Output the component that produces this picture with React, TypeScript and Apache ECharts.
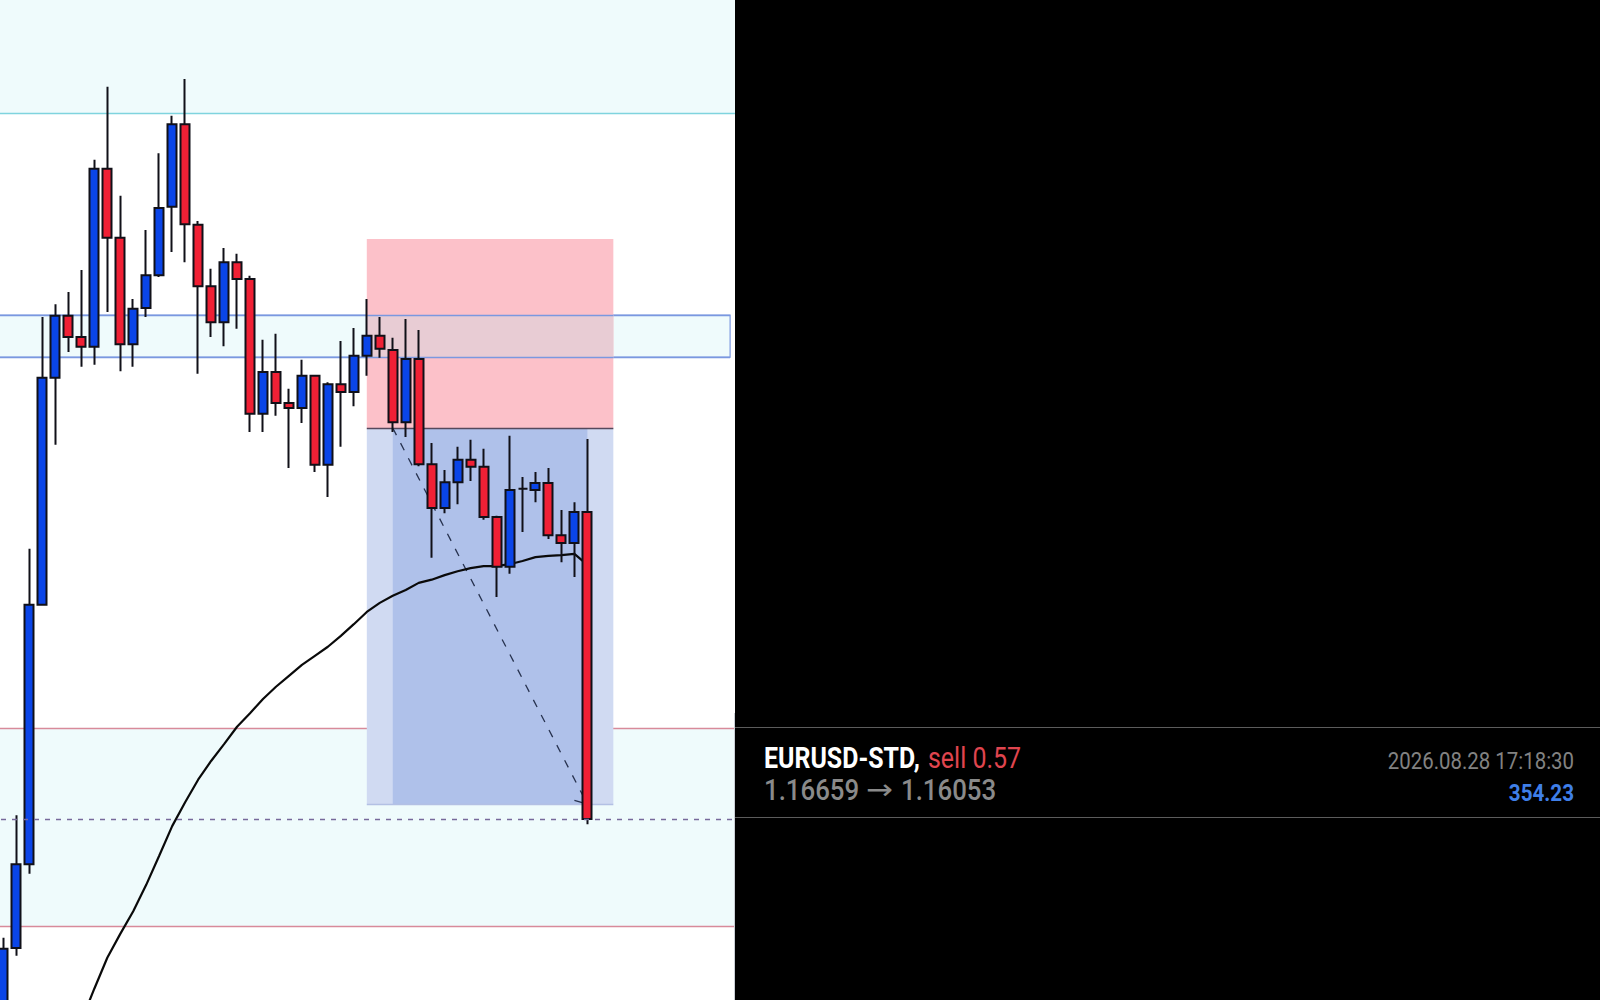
import * as echarts from "echarts";
import { useEffect, useRef } from "react";

// prices, oldest candle first
const opens = [
  1.15711, 1.15853, 1.15983, 1.16385, 1.16737, 1.16833, 1.168, 1.16785, 1.17061, 1.16954,
  1.16789, 1.16845, 1.16896, 1.17002, 1.1713, 1.16974, 1.16879, 1.16823, 1.16916, 1.1689,
  1.16681, 1.16746, 1.16698, 1.1669, 1.1674, 1.16602, 1.16727, 1.16715, 1.16771, 1.16802,
  1.1678, 1.16668, 1.16766, 1.16603, 1.16535, 1.16575, 1.1661, 1.16599, 1.16521, 1.16444,
  1.16565, 1.16563, 1.16574, 1.16493, 1.16481, 1.16529,
];
const closes = [
  1.15852, 1.15983, 1.16385, 1.16737, 1.16833, 1.168, 1.16785, 1.17061, 1.16954, 1.16789,
  1.16844, 1.16896, 1.17, 1.1713, 1.16975, 1.16879, 1.16823, 1.16916, 1.1689, 1.16681,
  1.16746, 1.16698, 1.1669, 1.1674, 1.16602, 1.16727, 1.16715, 1.16771, 1.16802, 1.16782,
  1.16668, 1.16766, 1.16603, 1.16535, 1.16575, 1.1661, 1.16599, 1.16521, 1.16444, 1.16563,
  1.16565, 1.16574, 1.16493, 1.16481, 1.16529, 1.16053,
];
const lows = [
  1.1568, 1.15841, 1.15968, 1.16385, 1.16633, 1.16777, 1.16754, 1.16757, 1.16839, 1.16747,
  1.16754, 1.16831, 1.16893, 1.16932, 1.16916, 1.16743, 1.168, 1.16786, 1.16813, 1.16653,
  1.16653, 1.16678, 1.16597, 1.16667, 1.16591, 1.16552, 1.1663, 1.16693, 1.1674, 1.16768,
  1.16653, 1.16645, 1.166, 1.16458, 1.16527, 1.16541, 1.16577, 1.16517, 1.16397, 1.16433,
  1.16498, 1.16544, 1.16487, 1.16451, 1.16428, 1.16045,
];
const highs = [
  1.15869, 1.16059, 1.16472, 1.16831, 1.16851, 1.1687, 1.16904, 1.17075, 1.17188, 1.17019,
  1.16859, 1.16966, 1.17085, 1.17143, 1.172, 1.1698, 1.16906, 1.16938, 1.16929, 1.16895,
  1.16796, 1.16805, 1.1672, 1.16765, 1.16741, 1.1673, 1.16794, 1.16814, 1.16859, 1.16831,
  1.16799, 1.16828, 1.16811, 1.16636, 1.16594, 1.1663, 1.16641, 1.16627, 1.16523, 1.16647,
  1.16583, 1.16591, 1.16597, 1.16532, 1.16544, 1.16642,
];
const maValues = [
  null, null, null, null, null, null, 1.1574, 1.1579, 1.15838, 1.15875,
  1.1591, 1.15951, 1.15996, 1.16042, 1.16079, 1.16114, 1.16143, 1.16169, 1.16196, 1.16217,
  1.16239, 1.16258, 1.16275, 1.16292, 1.16306, 1.1632, 1.16337, 1.16355, 1.16374, 1.16388,
  1.16399, 1.16408, 1.16419, 1.16424, 1.16431, 1.16437, 1.16442, 1.16445, 1.16445, 1.16448,
  1.16453, 1.16459, 1.16461, 1.16462, 1.16464, 1.16447,
];

// blank slots on the right keep the free space the platform leaves after the last candle
const slots = Array.from({ length: 57 }, (_, i) => String(i));

const upperZone = 1.17147;
const lowerZone = [1.16194, 1.15887];
const band = [1.16834, 1.16769];
const stopPrice = 1.16952;
const entryPrice = 1.16659;
const targetPrice = 1.16076;
const exitPrice = 1.16053;

const ZONE = "#effbfc";

const App = () => {
  const chartRef = useRef<HTMLDivElement>(null);

  useEffect(() => {
    const chart = echarts.init(chartRef.current as HTMLDivElement, null, {
      renderer: "svg",
    });

    const hLine = (y: number, color: string, from?: number, to?: number) => [
      { yAxis: y, ...(from === undefined ? { x: -10 } : { xAxis: from }), lineStyle: { color } },
      { yAxis: y, ...(to === undefined ? { x: 740 } : { xAxis: to }) },
    ];

    const option = {
      animation: false,
      backgroundColor: "#ffffff",
      grid: { left: -3, top: 0, width: 739.6, height: 1000, outerBoundsMode: "none" },
      xAxis: { type: "category", data: slots, show: false, boundaryGap: true },
      yAxis: { type: "value", min: 1.157725, max: 1.173225, show: false, splitLine: { show: false } },
      series: [
        {
          // zones behind everything
          type: "line",
          data: [],
          z: 1,
          markArea: {
            silent: true,
            z: 1,
            itemStyle: { color: ZONE },
            data: [
              [{ yAxis: 1.1733 }, { yAxis: upperZone }],
              [{ yAxis: lowerZone[0] }, { yAxis: lowerZone[1] }],
              [
                { yAxis: band[0], itemStyle: { color: ZONE, borderColor: "#7a98e0", borderWidth: 1.2 } },
                { yAxis: band[1], xAxis: 56 },
              ],
            ],
          },
          markLine: {
            silent: true,
            z: 2,
            symbol: "none",
            label: { show: false },
            lineStyle: { type: "solid", width: 1.3 },
            data: [
              hLine(upperZone, "#7fd4de"),
              hLine(lowerZone[0], "#d88a9a"),
              hLine(lowerZone[1], "#d88a9a"),
              hLine(band[0], "#7a98e0", undefined, 56),
              hLine(band[1], "#7a98e0", undefined, 56),
            ],
          },
        },
        {
          // trade boxes
          type: "line",
          data: [],
          z: 3,
          markArea: {
            silent: true,
            z: 3,
            data: [
              [
                { xAxis: 28, yAxis: stopPrice, itemStyle: { color: "#fcc1c9" } },
                { xAxis: 47, yAxis: entryPrice },
              ],
              [
                { xAxis: 28, yAxis: band[0], itemStyle: { color: "#e8ccd4" } },
                { xAxis: 47, yAxis: band[1] },
              ],
              [
                { xAxis: 28, yAxis: entryPrice, itemStyle: { color: "#d0daf2" } },
                { xAxis: 47, yAxis: targetPrice },
              ],
              [
                { xAxis: 30, yAxis: entryPrice, itemStyle: { color: "#afc1ea" } },
                { xAxis: 45, yAxis: targetPrice },
              ],
            ],
          },
          markLine: {
            silent: true,
            z: 4,
            symbol: "none",
            label: { show: false },
            lineStyle: { type: "solid", width: 1.3 },
            data: [
              hLine(entryPrice, "#55485c", 28, 47),
              hLine(band[0], "#7a98e0", 28, 47),
              hLine(band[1], "#7a98e0", 28, 47),
              hLine(targetPrice, "#b3c0e4", 28, 47),
              [
                { xAxis: 30, yAxis: entryPrice, lineStyle: { color: "#27324f", type: [8, 9], width: 1.3 } },
                { xAxis: 45, yAxis: targetPrice },
              ],
              [
                { xAxis: 43.7, yAxis: 1.16082, lineStyle: { color: "#27324f", width: 1.3 } },
                { xAxis: 45, yAxis: targetPrice },
              ],
            ],
          },
        },
        {
          type: "line",
          data: maValues,
          z: 5,
          symbol: "none",
          lineStyle: { color: "#0a0a0a", width: 2.2 },
        },
        {
          type: "candlestick",
          z: 6,
          barWidth: 9.5,
          data: opens.map((o, i) => [o, closes[i], lows[i], highs[i]]),
          itemStyle: {
            color: "#0a45e8",
            color0: "#f02035",
            borderColor: "#101018",
            borderColor0: "#101018",
            borderColorDoji: "#101018",
            borderWidth: 2,
          },
        },
        {
          // last price line runs over the candles
          type: "line",
          data: [],
          z: 7,
          markLine: {
            silent: true,
            z: 7,
            symbol: "none",
            label: { show: false },
            lineStyle: { type: [5, 6], width: 1.4 },
            data: [hLine(exitPrice, "#77699b")],
          },
        },
      ],
      graphic: [
        { type: "rect", z: 100, shape: { x: 735, y: 0, width: 865, height: 1000 }, style: { fill: "#000000" } },
        { type: "line", z: 101, shape: { x1: 734.5, y1: 713, x2: 734.5, y2: 1000 }, style: { stroke: "#c9ced4", lineWidth: 1 } },
        { type: "line", z: 101, shape: { x1: 735, y1: 727.5, x2: 1600, y2: 727.5 }, style: { stroke: "#5c5c5c", lineWidth: 1 } },
        { type: "line", z: 101, shape: { x1: 735, y1: 817.5, x2: 1600, y2: 817.5 }, style: { stroke: "#5c5c5c", lineWidth: 1 } },
        {
          type: "text",
          z: 102,
          x: 764,
          y: 758,
          scaleX: 0.86,
          style: { text: "EURUSD-STD,", fill: "#ffffff", fontFamily: "Roboto", fontSize: 29, fontWeight: 700, textVerticalAlign: "middle" },
        },
        {
          type: "text",
          z: 102,
          x: 928,
          y: 758,
          scaleX: 0.86,
          style: { text: "sell 0.57", fill: "#e0454f", fontFamily: "Roboto", fontSize: 29, textVerticalAlign: "middle" },
        },
        {
          type: "text",
          z: 102,
          x: 764,
          y: 790,
          scaleX: 0.89,
          style: { text: "1.16659", fill: "#8a8a8a", fontFamily: "Roboto", fontSize: 29, fontWeight: 500, textVerticalAlign: "middle" },
        },
        {
          type: "text",
          z: 102,
          x: 866,
          y: 789,
          scaleX: 1.15,
          style: { text: "→", fill: "#8a8a8a", fontFamily: "DejaVu Sans", fontSize: 28, textVerticalAlign: "middle" },
        },
        {
          type: "text",
          z: 102,
          x: 901,
          y: 790,
          scaleX: 0.89,
          style: { text: "1.16053", fill: "#8a8a8a", fontFamily: "Roboto", fontSize: 29, fontWeight: 500, textVerticalAlign: "middle" },
        },
        {
          type: "text",
          z: 102,
          x: 1574,
          y: 760,
          scaleX: 0.85,
          style: { text: "2026.08.28 17:18:30", fill: "#828282", fontFamily: "Roboto", fontSize: 24, textAlign: "right", textVerticalAlign: "middle" },
        },
        {
          type: "text",
          z: 102,
          x: 1574,
          y: 792,
          scaleX: 0.86,
          style: { text: "354.23", fill: "#3f7fe8", fontFamily: "Roboto", fontSize: 24, fontWeight: 700, textAlign: "right", textVerticalAlign: "middle" },
        },
      ],
    };
    chart.setOption(option as any);

    return () => {
      chart.dispose();
    };
  }, []);

  return (
    <div
      ref={chartRef}
      style={{ position: "fixed", left: 0, top: 0, width: 1600, height: 1000 }}
    />
  );
};

export default App;
